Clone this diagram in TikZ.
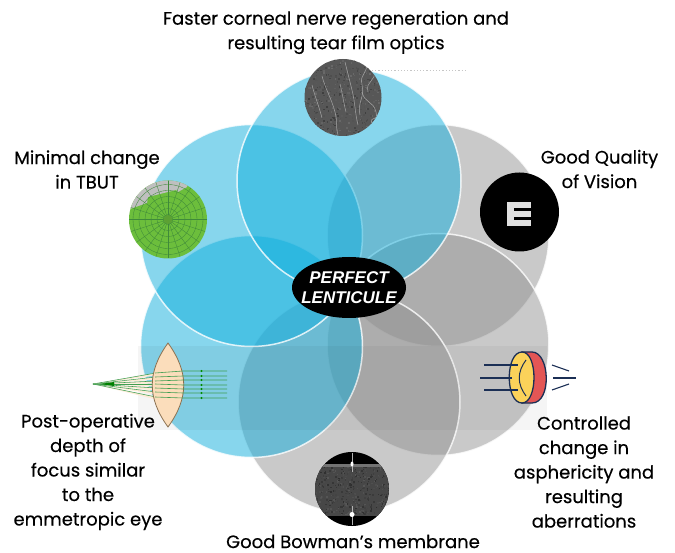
\documentclass[tikz,border=0pt]{standalone}
\usepackage{fontspec}
\setmainfont{Poppins}[RawFeature={embolden=0.35}]
\newfontfamily\lblfont{Liberation Sans}
\usetikzlibrary{shapes.geometric}
\definecolor{petalblue}{HTML}{11AFDD}
\definecolor{petalgray}{HTML}{8E8E8E}
\definecolor{lensfill}{HTML}{FBDDBB}
\definecolor{lensedge}{HTML}{8A7050}
\definecolor{raygreen}{HTML}{3F9E50}
\definecolor{topogreen}{HTML}{6CBE3C}
\definecolor{topoline}{HTML}{3F8A3A}
\definecolor{navy}{HTML}{1B2F55}
\definecolor{lensred}{HTML}{E35655}
\definecolor{lensyellow}{HTML}{FBD25A}
\tikzset{
  x=1pt,y=-1pt,
  petala/.style={circle,minimum size=222pt,inner sep=0pt,fill=petalblue,fill opacity=.5,draw=white,line width=1.5pt,draw opacity=.8},
  petalb/.style={circle,minimum size=222pt,inner sep=0pt,fill=petalgray,fill opacity=.47,draw=white,line width=1.5pt,draw opacity=.8},
  lbl/.style={align=center,font=\fontsize{18}{24.5}\selectfont,text=black,inner sep=0pt},
  disc/.style={circle,inner sep=0pt},
}
\begin{document}
\begin{tikzpicture}
\useasboundingbox (0,0) rectangle (675,553);
\fill[white] (0,0) rectangle (675,553);
\pgfmathsetseed{7}
% petals
\node[petalb] (p2) at (438,235.5) {};
\node[petalb] (p3) at (438,344.5) {};
\node[petalb] (p4) at (349,402) {};
\node[petala] (p5) at (251.5,346.5) {};
\node[petala] (p6) at (251.5,235.5) {};
\node[petala,minimum size=224pt] (p1) at (349,181) {};
% band behind lens
\fill[black,opacity=.04] (138,346) rectangle (547,430);
\draw[gray!45,line width=1.2pt,dotted] (372,70.7) -- (465,70.7);
% centre
\node[ellipse,fill=black,minimum width=114pt,minimum height=61pt,inner sep=0pt] (centre) at (349,287.5) {};
\node[inner sep=0pt,text=white,align=center,font=\lblfont\bfseries\itshape\fontsize{17}{20.5}\selectfont] (centretext) at (centre) {PERFECT\\LENTICULE};
% nerve image
\node[disc,fill=black!66,minimum size=77pt] (nerve) at (343,97.5) {};
\begin{scope}
\clip (343,97.5) circle (38.5);
\foreach \i in {1,...,500} {
  \pgfmathsetmacro{\px}{304+rnd*78}\pgfmathsetmacro{\py}{59+rnd*78}\pgfmathsetmacro{\pg}{58+rnd*18}
  \fill[black!\pg!white] (\px,\py) rectangle ++(1.6,1.6);
}
\foreach \a/\b/\c/\d in {312/85/322/118,322/76/335/112,335/112/338/135,345/62/352/90,352/90/358/125,366/62/362/85,362/85/360/115,362/92/376/112,374/70/368/92,376/112/372/125,340/84/346/112}
  \draw[white!65!black,line width=.5pt] (\a,\b) .. controls (\a+3,\b+12) and (\c-3,\d-12) .. (\c,\d);
\end{scope}
% E image
\node[disc,fill=black,minimum size=79pt] (chart) at (519.5,212) {};
\fill[white!88!black] (507,202.5) rectangle (531,226);
\fill[black] (513.5,208) rectangle (531,211.5);
\fill[black] (513.5,217) rectangle (531,220.5);
% cornea topography
\node[disc,fill=topogreen,minimum size=78pt] (topo) at (168,219.5) {};
\begin{scope}
\clip (168,219.5) circle (39);
\fill[gray!50] (125,178) -- (188,178) -- (187,187) -- (178,192) -- (176,190) -- (148,197) -- (147,203) -- (130,209) -- cycle;
\foreach \r in {5,11,17,23,29,35} \draw[topoline,line width=.35pt] (168,219.5) circle (\r);
\foreach \t in {0,18,...,342} \draw[topoline,line width=.35pt] (168,219.5) -- ++(\t:39);
\end{scope}
\fill[topogreen!85!black] (168,219.5) circle (4.5);
% lens rays
\coordinate (focus) at (93,384);
\foreach \y in {373,377,381,384,388,392,397} {
  \fill[lensfill!60!white] (focus) -- (156,\y) -- (156,\y+2.5) -- cycle;
  \draw[raygreen,line width=.55pt] (focus) -- (156,\y);
}
\fill[green!50!black] (100,384) -- (114,382) -- (114,386) -- cycle;
\node[inner sep=0pt] (lens) at (168,385) {};
\draw[lensedge,line width=.8pt,fill=lensfill] (168,343) .. controls (147,372) and (147,398) .. (168,427) .. controls (189,398) and (189,372) .. (168,343) -- cycle;
\foreach \y/\z in {373/371,377/376,381/380,384/385,388/389,392/393,397/398} {
  \draw[raygreen,line width=.6pt] (155,\y) -- (183,\z) -- (227,\z);
  \fill[green!55!black] (201.5,\z) circle (1.1);
}
% aspheric lens icon
\draw[navy,line width=1.3pt,fill=lensred] (522,352) -- (532,352) .. controls (550,352) and (552,403) .. (532,403) -- (522,403) -- cycle;
\draw[navy,line width=1.3pt,fill=lensyellow] (522,352) .. controls (505,352) and (505,403) .. (522,403) .. controls (538,403) and (538,352) .. (522,352) -- cycle;
\draw[navy,line width=1pt] (526,360) .. controls (517,372) and (517,384) .. (526,396);
\foreach \xa/\xb/\y in {484/518/365,480/512/378,484/518/390} \draw[navy,line width=1.1pt] (\xa,\y) -- (\xb,\y);
\draw[navy,line width=1.1pt] (553,378) -- (576,378);
\draw[navy,line width=1.1pt] (552,365) -- (569,371);
\draw[navy,line width=1.1pt] (552,390) -- (569,384);
% Bowman image
\node[disc,fill=black,minimum size=74pt] (bowman) at (352,489) {};
\begin{scope}
\clip (352,489) circle (37);
\fill[black!72] (315,464) rectangle (389,516);
\foreach \i in {1,...,500} {
  \pgfmathsetmacro{\px}{315+rnd*73}\pgfmathsetmacro{\py}{466+rnd*48}\pgfmathsetmacro{\pg}{66+rnd*16}
  \fill[black!\pg!white] (\px,\py) rectangle ++(1.5,1.5);
}
\fill[black!55] (315,463.5) rectangle (389,467);
\draw[white!70!black,line width=.7pt] (352,453) -- (352,472);
\draw[white!70!black,line width=.7pt] (352,506) -- (352,525);
\fill[white] (352,464) ellipse (1.5 and 2.5);
\fill[white] (352,514.5) ellipse (2.5 and 2.5);
\end{scope}
% labels
\node[lbl] (t1) at (336,32.5) {Faster corneal nerve regeneration and\\resulting tear film optics};
\node[lbl] (t2) at (87,169.5) {Minimal change\\in TBUT};
\node[lbl] (t3) at (599.5,169) {Good Quality\\of Vision};
\node[lbl] (t4) at (88,472) {Post-operative\\depth of\\focus similar\\to the\\emmetropic eye};
\node[lbl] (t5) at (584,472) {Controlled\\change in\\asphericity and\\resulting\\aberrations};
\node[lbl] (t6) at (353,541.5) {Good Bowman’s membrane};
\end{tikzpicture}
\end{document}
